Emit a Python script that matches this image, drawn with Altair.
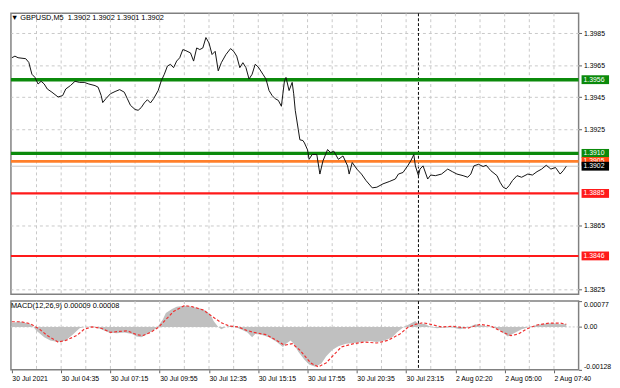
import json
import altair as alt
import pandas as pd

FONT = "Liberation Sans, DejaVu Sans, sans-serif"

# ---------------- data ----------------
# M5 bar index (0 = first visible bar) and close price
bar_index = [0, 2, 4, 9, 11, 13, 15, 17, 19, 21,
             23, 26, 30, 33, 35, 38, 41, 44, 47, 50,
             54, 56, 58, 59, 61, 64, 67, 70, 73, 75,
             77, 80, 82, 84, 86, 88, 90, 92, 95, 97,
             99, 101, 103, 105, 107, 109, 111, 113, 116, 118,
             120, 122, 124, 126, 128, 130, 132, 134, 136, 139,
             142, 144, 146, 148, 150, 152, 154, 156, 158, 160,
             163, 165, 167, 169, 171, 173, 175, 177, 178, 180,
             182, 183, 184, 186, 187, 189, 190, 192, 193, 195,
             198, 200, 202, 205, 207, 209, 212, 215, 218, 219,
             221, 224, 227, 230, 234, 237, 241, 245, 249, 251,
             254, 257, 259, 261, 262, 264, 265, 267, 270, 272,
             275, 279, 283, 286, 289, 293, 296, 298, 300, 303,
             306, 308, 311, 315, 317, 319, 321, 323, 325, 328,
             331, 335, 338, 341, 344, 347, 350, 353, 356, 358,
             360]
close_price = [1.39697, 1.39707, 1.39697, 1.39691, 1.39668, 1.39594, 1.39574, 1.39533, 1.39550, 1.39533,
               1.39502, 1.39482, 1.39452, 1.39461, 1.39502, 1.39523, 1.39550, 1.39543, 1.39543, 1.39533,
               1.39523, 1.39513, 1.39461, 1.39417, 1.39441, 1.39472, 1.39486, 1.39498, 1.39482, 1.39441,
               1.39400, 1.39374, 1.39369, 1.39386, 1.39415, 1.39435, 1.39415, 1.39441, 1.39492, 1.39553,
               1.39594, 1.39645, 1.39656, 1.39635, 1.39676, 1.39697, 1.39748, 1.39741, 1.39727, 1.39676,
               1.39758, 1.39748, 1.39758, 1.39823, 1.39789, 1.39717, 1.39737, 1.39615, 1.39666, 1.39717,
               1.39754, 1.39737, 1.39707, 1.39635, 1.39666, 1.39635, 1.39564, 1.39594, 1.39656, 1.39639,
               1.39594, 1.39564, 1.39492, 1.39461, 1.39441, 1.39431, 1.39394, 1.39553, 1.39574, 1.39492,
               1.39543, 1.39472, 1.39369, 1.39247, 1.39185, 1.39180, 1.39165, 1.39122, 1.39063, 1.39093,
               1.39093, 1.38971, 1.39053, 1.39124, 1.39104, 1.39114, 1.39063, 1.39084, 1.39022, 1.38971,
               1.39043, 1.39002, 1.38971, 1.38930, 1.38885, 1.38889, 1.38910, 1.38924, 1.38940, 1.38971,
               1.38981, 1.39022, 1.39053, 1.39093, 1.39022, 1.38961, 1.39002, 1.39022, 1.38940, 1.38965,
               1.38961, 1.38971, 1.39002, 1.38986, 1.38971, 1.38961, 1.38951, 1.38971, 1.39022, 1.39032,
               1.39018, 1.39026, 1.38992, 1.38961, 1.38920, 1.38889, 1.38879, 1.38900, 1.38930, 1.38961,
               1.38951, 1.38971, 1.38965, 1.38986, 1.39002, 1.39026, 1.39002, 1.39012, 1.38971, 1.38992,
               1.39020]

# MACD(12,26,9) main (histogram) and signal
macd_index = [0, 6, 12, 14, 16, 21, 25, 30, 35, 40,
              44, 47, 52, 55, 58, 63, 68, 73, 78, 81,
              84, 88, 93, 95, 98, 100, 104, 107, 112, 117,
              122, 126, 129, 131, 134, 136, 139, 142, 146, 150,
              153, 156, 158, 162, 167, 172, 176, 178, 181, 183,
              186, 190, 193, 197, 201, 204, 208, 212, 217, 222,
              227, 232, 237, 242, 247, 250, 254, 258, 262, 264,
              268, 272, 276, 281, 286, 291, 296, 301, 306, 311,
              316, 320, 322, 326, 331, 336, 341, 346, 351, 356,
              360]
macd_main = [0.000125, 0.000154, 0.000077, 0.0, -0.000115, -0.000307, -0.000403, -0.000451, -0.000403, -0.000211,
             -0.000038, 0.0, 0.00001, -0.000019, -0.000067, -0.000163, -0.000192, -0.000163, -0.000211, -0.000288,
             -0.000307, -0.000211, -0.000067, 0.000029, 0.000221, 0.000413, 0.000538, 0.000605, 0.000634, 0.000605,
             0.000557, 0.00048, 0.000365, 0.000173, 0.0, -0.000067, 0.0, 0.000038, -0.000019, -0.000096,
             -0.000163, -0.000307, -0.000211, -0.00023, -0.000307, -0.000451, -0.000595, -0.000499, -0.000403, -0.000499,
             -0.000739, -0.00098, -0.001123, -0.00119, -0.001094, -0.000883, -0.000691, -0.000576, -0.000499, -0.00048,
             -0.000451, -0.000422, -0.000451, -0.000403, -0.000307, -0.000163, -0.000019, 0.000077, 0.000173, 0.000077,
             0.000096, 0.0, -0.000038, -0.000019, -0.000019, -0.000067, -0.000019, 0.000077, 0.000038, 0.0,
             -0.000067, -0.000211, -0.000288, -0.000192, -0.000067, 0.0, 0.000058, 0.000096, 0.000115, 0.000077,
             0.00009]
signal_index = [0, 6, 12, 18, 23, 30, 35, 42, 47, 52,
                58, 64, 70, 75, 81, 85, 90, 95, 100, 105,
                112, 117, 124, 130, 136, 141, 147, 152, 157, 165,
                172, 177, 182, 187, 194, 199, 204, 209, 214, 222,
                229, 237, 244, 252, 257, 262, 267, 272, 279, 286,
                296, 304, 311, 319, 324, 329, 334, 341, 349, 356,
                360]
macd_signal = [0.000154, 0.000154, 0.000096, -0.000067, -0.000259, -0.000451, -0.000403, -0.000259, -0.000067, 0.0,
               -0.000038, -0.000163, -0.000134, -0.000115, -0.00023, -0.000259, -0.000163, -0.000019, 0.000221, 0.000461,
               0.000634, 0.000605, 0.000509, 0.000317, 0.000125, 0.000029, 0.0, -0.000096, -0.000163, -0.00023,
               -0.000403, -0.000547, -0.000499, -0.000691, -0.001075, -0.00119, -0.001075, -0.000835, -0.000595, -0.000499,
               -0.000451, -0.00048, -0.000403, -0.000211, -0.000019, 0.000077, 0.000125, 0.000077, 0.0, 0.000019,
               -0.000038, 0.000077, 0.000029, -0.000163, -0.000259, -0.000211, -0.000067, 0.000058, 0.000115, 0.000115,
               0.00008]

# horizontal levels
level_price = [1.3956, 1.3910, 1.3905, 1.3885, 1.3846]
level_text = ["1.3956", "1.3910", "1.3905", "1.3885", "1.3846"]
current_price = 1.3902
current_text = "1.3902"

# axes (labels hidden under the level boxes are left out)
price_ticks = [1.3985, 1.3965, 1.3945, 1.3925, 1.3865, 1.3825]
macd_ticks = [0.00077, 0.0, -0.00128]
macd_tick_labels = ["0.00077", "0.00", "-0.00128"]
time_tick_index = [0, 32, 64, 96, 128, 160, 192, 224, 256, 288, 320, 352]
time_labels = ["30 Jul 2021", "30 Jul 04:35", "30 Jul 07:15", "30 Jul 09:55", "30 Jul 12:35",
               "30 Jul 15:15", "30 Jul 17:55", "30 Jul 20:35", "30 Jul 23:15", "2 Aug 02:20",
               "2 Aug 05:00", "2 Aug 07:40"]
grid_index = [16, 32, 48, 64, 80, 96, 112, 128, 144, 160, 176, 192, 208, 224, 240, 256,
              272, 288, 304, 320, 336, 352]
day_separator_index = [264]

main_title = "\u25BC GBPUSD,M5 \u00A01.3902 1.3902 1.3901 1.3902"
macd_title = "MACD(12,26,9) 0.00009 0.00008"

# ---------------- styles ----------------
GREEN = "#0b8a0b"
RED = "#ff1a1a"
level_line_colors = [GREEN, GREEN, "#ff7f2a", RED, RED]
level_line_widths = [3.5, 2.0, 1.3, 2.0, 3.5]
level_box_colors = [GREEN, GREEN, "#ff4a12", RED, RED]

W = 578
H_MAIN = 286
H_MACD = 70

x_scale = alt.Scale(domain=[-0.6, 368], nice=False, zero=False)
y_main = alt.Scale(domain=[1.38221, 1.39974], nice=False, zero=False)
y_macd = alt.Scale(domain=[-0.00128, 0.00077], nice=False, zero=False)

price_df = pd.DataFrame({"i": bar_index, "p": close_price})
macd_df = pd.DataFrame({"i": macd_index, "v": macd_main})
sig_df = pd.DataFrame({"i": signal_index, "v": macd_signal})
grid_df = pd.DataFrame({"g": grid_index})
sep_df = pd.DataFrame({"s": day_separator_index})
lev_df = pd.DataFrame({"price": level_price, "label": level_text})
cur_df = pd.DataFrame({"price": [current_price], "label": [current_text]})
zero_df = pd.DataFrame({"z": [0.0]})

# shared axis definitions (identical in every layer so they merge)
main_y_axis = alt.Axis(orient="right", values=price_ticks, format=".4f", grid=True,
                       gridColor="#c8c8c8", gridDash=[3, 3], tickSize=3, labelPadding=2,
                       domain=False, title=None, labelFlush=False, labelOverlap=False)

x_label_expr = json.dumps(time_labels) + "[round(datum.value / 32)]"
y_label_expr = ""
for v, lbl in zip(macd_ticks, macd_tick_labels):
    y_label_expr += f"abs(datum.value - ({v})) < 1e-9 ? '{lbl}' : "
y_label_expr += "''"

macd_x_axis = alt.Axis(values=time_tick_index, labelExpr=x_label_expr, labelAlign="left",
                       tickSize=3, labelPadding=2, grid=False, domain=False, title=None,
                       labelFlush=False, labelOverlap=False)
macd_y_axis = alt.Axis(orient="right", values=macd_ticks, labelExpr=y_label_expr, grid=False,
                       tickSize=3, labelPadding=2, domain=False, title=None, labelFlush=True,
                       labelOverlap=False)


def vgrid(axis):
    return alt.Chart(grid_df).mark_rule(color="#c8c8c8", strokeDash=[3, 3], strokeWidth=1).encode(
        x=alt.X("g:Q", scale=x_scale, axis=axis))


def separator(axis):
    return alt.Chart(sep_df).mark_rule(color="#000000", strokeDash=[3, 2], strokeWidth=1).encode(
        x=alt.X("s:Q", scale=x_scale, axis=axis))


# ---------------- main price panel ----------------
price_line = alt.Chart(price_df).mark_line(color="#111111", strokeWidth=1).encode(
    x=alt.X("i:Q", scale=x_scale, axis=None),
    y=alt.Y("p:Q", scale=y_main, axis=main_y_axis))

lev_rules = alt.Chart(lev_df).mark_rule().encode(
    y=alt.Y("price:Q", scale=y_main, axis=main_y_axis),
    stroke=alt.Stroke("label:N", scale=alt.Scale(domain=level_text, range=level_line_colors), legend=None),
    strokeWidth=alt.StrokeWidth("label:N", scale=alt.Scale(domain=level_text, range=level_line_widths),
                                legend=None))

bid_rule = alt.Chart(cur_df).mark_rule(color="#c4c4c4", strokeWidth=1).encode(
    y=alt.Y("price:Q", scale=y_main, axis=main_y_axis))

lev_box = alt.Chart(lev_df).mark_tick(orient="horizontal", size=28, thickness=9, opacity=1).encode(
    x=alt.value(W + 17),
    y=alt.Y("price:Q", scale=y_main, axis=main_y_axis),
    fill=alt.Fill("label:N", scale=alt.Scale(domain=level_text, range=level_box_colors), legend=None))

lev_txt = alt.Chart(lev_df).mark_text(align="left", baseline="middle", color="white",
                                      fontSize=7, font=FONT).encode(
    x=alt.value(W + 5), y=alt.Y("price:Q", scale=y_main, axis=main_y_axis), text="label:N")

cur_box = alt.Chart(cur_df).mark_tick(orient="horizontal", size=28, thickness=9, opacity=1,
                                      color="#000000").encode(
    x=alt.value(W + 17), y=alt.Y("price:Q", scale=y_main, axis=main_y_axis))

cur_txt = alt.Chart(cur_df).mark_text(align="left", baseline="middle", color="white",
                                      fontSize=7, font=FONT).encode(
    x=alt.value(W + 5), y=alt.Y("price:Q", scale=y_main, axis=main_y_axis), text="label:N")

main = alt.layer(vgrid(None), separator(None), lev_rules, bid_rule, price_line,
                 lev_box, lev_txt, cur_box, cur_txt).properties(
    width=W, height=H_MAIN,
    title=alt.TitleParams(text=main_title, anchor="start", offset=-9, dx=0, fontSize=7.5,
                          font=FONT, fontWeight="normal", color="#000000", frame="group"))

# ---------------- MACD panel ----------------
zero_rule = alt.Chart(zero_df).mark_rule(color="#c8c8c8", strokeDash=[2, 2], strokeWidth=1).encode(
    y=alt.Y("z:Q", scale=y_macd, axis=macd_y_axis))

hist = alt.Chart(macd_df).mark_area(color="#c0c0c0", opacity=1).encode(
    x=alt.X("i:Q", scale=x_scale, axis=macd_x_axis),
    y=alt.Y("v:Q", scale=y_macd, axis=macd_y_axis),
    y2=alt.datum(0))

signal = alt.Chart(sig_df).mark_line(color="#f03030", strokeDash=[3, 2], strokeWidth=1.2).encode(
    x=alt.X("i:Q", scale=x_scale, axis=macd_x_axis),
    y=alt.Y("v:Q", scale=y_macd, axis=macd_y_axis))

macd = alt.layer(vgrid(macd_x_axis), separator(macd_x_axis), zero_rule, hist, signal).properties(
    width=W, height=H_MACD,
    title=alt.TitleParams(text=macd_title, anchor="start", offset=-9, dx=0, fontSize=7.5,
                          font=FONT, fontWeight="normal", color="#000000", frame="group"))

chart = alt.vconcat(main, macd, spacing=3).properties(
    padding=0, background="white"
).configure_view(
    stroke="#808080", strokeWidth=1.5
).configure_axis(
    labelFont=FONT, labelFontSize=7, labelColor="#000000", tickColor="#606060"
)

chart.save("out.html", embed_options={"renderer": "svg", "actions": False})
